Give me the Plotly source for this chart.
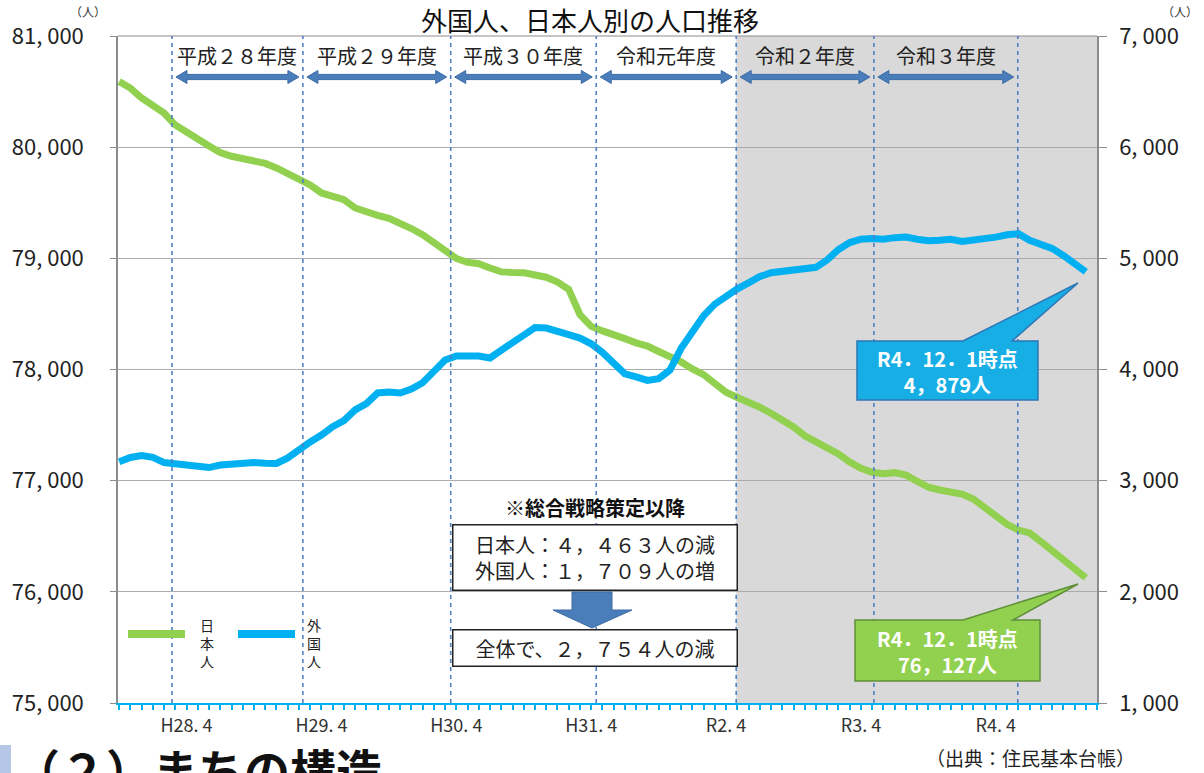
import plotly.graph_objects as go

# ---------------- data ----------------
# monthly points, Oct 2015 (H27.10) through Dec 2022 (R4.12)
months = [(2015, m) for m in range(10, 13)] + [(y, m) for y in range(2016, 2023) for m in range(1, 13)]

# Japanese residents (left axis)
japanese = [80590, 80532, 80442, 80374, 80307, 80199, 80127, 80073, 80010, 79951,
            79918, 79899, 79886, 79854, 79813, 79766, 79720, 79660, 79588, 79556,
            79528, 79453, 79414, 79387, 79359, 79321, 79268, 79213, 79138, 79057,
            78999, 78964, 78951, 78913, 78878, 78873, 78871, 78850, 78830, 78787,
            78721, 78493, 78388, 78347, 78305, 78278, 78240, 78211, 78162, 78122,
            78068, 78005, 77954, 77874, 77795, 77748, 77712, 77661, 77607, 77550,
            77483, 77404, 77351, 77308, 77240, 77168, 77111, 77076, 77062, 77072,
            77050, 76995, 76941, 76916, 76900, 76880, 76835, 76757, 76677, 76608,
            76556, 76530, 76452, 76371, 76292, 76218, 76127]

# foreign residents (right axis)
foreign = [3170, 3209, 3227, 3210, 3163, 3150, 3129, 3119, 3118, 3141,
           3147, 3162, 3163, 3156, 3155, 3205, 3285, 3348, 3411, 3486,
           3540, 3636, 3693, 3789, 3798, 3789, 3825, 3881, 3983, 4086,
           4122, 4129, 4121, 4104, 4182, 4242, 4310, 4377, 4373, 4336,
           4313, 4283, 4231, 4154, 4053, 3961, 3934, 3902, 3918, 3994,
           4190, 4341, 4484, 4588, 4661, 4726, 4780, 4836, 4870, 4882,
           4896, 4913, 4919, 4987, 5080, 5142, 5172, 5179, 5171, 5186,
           5191, 5172, 5159, 5163, 5172, 5152, 5162, 5177, 5191, 5212,
           5222, 5162, 5126, 5090, 5026, 4950, 4879]

fiscal_years = ["平成２８年度", "平成２９年度", "平成３０年度", "令和元年度", "令和２年度", "令和３年度"]

left_ticks = [75000, 76000, 77000, 78000, 79000, 80000, 81000]
right_ticks = [1000, 2000, 3000, 4000, 5000, 6000, 7000]

# ---------------- helpers ----------------
FONT = "Noto Sans CJK JP"
W, H = 1204, 773
L, R, T, B = 118, 107, 36, 70
PW, PH = W - L - R, H - T - B
XR = [-0.1, 87.0]

# fiscal-year divider positions along the month axis
fy_dividers = [4.7, 16.35, 29.5, 42.45, 54.9, 67.15, 79.95]


def era(y, m):
    if (y, m) < (2019, 5):
        return f"H{y - 1988}"
    return f"R{y - 2018}"


def fw(text):
    return text.translate(str.maketrans("0123456789,.", "０１２３４５６７８９，．"))


def px(x):
    return (x - L) / PW


def py(y):
    return (T + PH - y) / PH


def xpix(v):
    return L + (v - XR[0]) * PW / (XR[1] - XR[0])


def comma_label(v):
    return f"{v // 1000}, {v % 1000:03d}"


def path_of(pts):
    return "M " + " L ".join(f"{px(x):.5f},{py(y):.5f}" for x, y in pts) + " Z"


annotations = []


def ann(text, x, y, size, color="#222", xanchor="center", yanchor="middle", **kw):
    annotations.append(dict(text=text, x=px(x), y=py(y), xref="paper", yref="paper",
                            xanchor=xanchor, yanchor=yanchor, showarrow=False,
                            font=dict(family=FONT, size=size, color=color), **kw))


xs = list(range(len(months)))
april_idx = [i for i, (y, m) in enumerate(months) if m == 4]
april_txt = [f"{era(*months[i])}. {months[i][1]}" for i in april_idx]

fig = go.Figure()
fig.add_trace(go.Scatter(x=xs, y=japanese, mode="lines", name="日本人",
                         line=dict(color="#92d050", width=7), yaxis="y"))
fig.add_trace(go.Scatter(x=xs, y=foreign, mode="lines", name="外国人",
                         line=dict(color="#00b0f0", width=7), yaxis="y2"))

shapes = []
# shaded period from R2.4
shapes.append(dict(type="rect", xref="x", yref="y", x0=fy_dividers[4], x1=XR[1],
                   y0=left_ticks[0], y1=left_ticks[-1], fillcolor="#d9d9d9",
                   line=dict(width=0), layer="below"))
# top frame
shapes.append(dict(type="line", xref="paper", yref="paper", x0=0, x1=1, y0=1, y1=1,
                   line=dict(color="#8c8c8c", width=1)))
# fiscal-year dividers
for d in fy_dividers:
    shapes.append(dict(type="line", xref="x", yref="paper", x0=d, x1=d, y0=0, y1=1,
                       line=dict(color="#4f7fc6", width=1.6, dash="4px,4px"), layer="above"))

# fiscal-year labels and double arrows
ay = 77
for i, name in enumerate(fiscal_years):
    a = xpix(fy_dividers[i]) + 4
    b = xpix(fy_dividers[i + 1]) - 4
    ann(name, (a + b) / 2, 55, 20)
    hl, hh, st = 11, 6.5, 2.6
    pts = [(a, ay), (a + hl, ay - hh), (a + hl, ay - st), (b - hl, ay - st), (b - hl, ay - hh),
           (b, ay), (b - hl, ay + hh), (b - hl, ay + st), (a + hl, ay + st), (a + hl, ay + hh)]
    shapes.append(dict(type="path", xref="paper", yref="paper", path=path_of(pts),
                       fillcolor="#4a7ebb", line=dict(color="#3c6aa5", width=1)))

# title and units
ann("外国人、日本人別の人口推移", 590, 19, 26, color="#111")
ann("（人）", 88, 12, 12, color="#333")
ann("（人）", 1180, 12, 12, color="#333")

# summary boxes since the strategy was adopted
jp_change = japanese[0] - japanese[-1]
fr_change = foreign[-1] - foreign[0]
total_change = jp_change - fr_change
ann("<b>※総合戦略策定以降</b>", 595, 507, 20, color="#111")
ann(f"日本人：{fw(f'{jp_change:,}')}人の減<br>外国人：{fw(f'{fr_change:,}')}人の増", 594.5, 557, 20,
    width=281, height=62, bgcolor="white", bordercolor="#222", borderwidth=1.5, borderpad=1)
ann(f"全体で、{fw(f'{total_change:,}')}人の減", 594.5, 647.5, 20,
    width=281, height=33, bgcolor="white", bordercolor="#222", borderwidth=1.5, borderpad=1)
# block arrow between the boxes
shapes.append(dict(type="path", xref="paper", yref="paper",
                   path=path_of([(572, 592), (612, 592), (612, 610), (632, 610), (592, 628), (553, 610), (572, 610)]),
                   fillcolor="#4a7ebb", line=dict(color="#3c6aa5", width=1)))

# callouts for the latest values
ly, lm = months[-1]
stamp = f"{era(ly, lm)}．{lm}．1時点"
callouts = [
    (foreign[-1], "#17aee6", "#2e75b6",
     [(857, 341), (963, 341), (1078, 283), (1012, 341), (1038, 341), (1038, 400), (857, 400)], 371),
    (japanese[-1], "#92d050", "#5f8f3a",
     [(855, 620), (963, 620), (1078, 584), (1013, 620), (1040, 620), (1040, 681), (855, 681)], 651),
]
for val, fill, edge, pts, cy in callouts:
    shapes.append(dict(type="path", xref="paper", yref="paper", path=path_of(pts),
                       fillcolor=fill, line=dict(color=edge, width=1.5)))
    ann(f"<b>{stamp}<br>{val:,}人</b>".replace(",", "，"), 947, cy, 20, color="white")

# legend drawn inside the plot, names written vertically
for (x0, x1, tx), color, name in [((128, 185, 207), "#92d050", "日本人"), ((238, 295, 314), "#00b0f0", "外国人")]:
    shapes.append(dict(type="line", xref="paper", yref="paper", x0=px(x0), x1=px(x1), y0=py(634), y1=py(634),
                       line=dict(color=color, width=8)))
    ann("<br>".join(name), tx, 643, 14)

# source and section heading
ann("（出典：住民基本台帳）", 1030, 757, 19)
ann("<b>（２）まちの構造</b>", 12, 733, 46, color="#111", xanchor="left", yanchor="top")
shapes.append(dict(type="rect", xref="paper", yref="paper", x0=px(0), x1=px(11), y0=py(773), y1=py(745),
                   fillcolor="#b4c7e7", line=dict(width=0)))

fig.update_layout(
    width=W, height=H,
    margin=dict(l=L, r=R, t=T, b=B, autoexpand=False),
    paper_bgcolor="white", plot_bgcolor="rgba(0,0,0,0)",
    showlegend=False,
    font=dict(family=FONT),
    shapes=shapes, annotations=annotations,
    xaxis=dict(range=XR, tickvals=april_idx, ticktext=april_txt, showgrid=False, zeroline=False,
               showline=True, linecolor="#00b0f0", linewidth=2,
               ticks="outside", ticklen=5, tickwidth=1.5, tickcolor="#00b0f0",
               minor=dict(ticks="outside", tick0=0, dtick=1, ticklen=5, tickwidth=1.5, tickcolor="#00b0f0"),
               tickfont=dict(family=FONT, size=18, color="#333"), automargin=False),
    yaxis=dict(range=[left_ticks[0], left_ticks[-1]], tickvals=left_ticks,
               ticktext=[comma_label(v) for v in left_ticks],
               showgrid=True, gridcolor="#ababab", gridwidth=1, zeroline=False,
               showline=True, linecolor="#8c8c8c", linewidth=1.5,
               ticks="outside", ticklen=6, tickcolor="#8c8c8c", ticklabelstandoff=22,
               tickfont=dict(family=FONT, size=22, color="#222"), automargin=False),
    yaxis2=dict(range=[right_ticks[0], right_ticks[-1]], tickvals=right_ticks,
                ticktext=[comma_label(v) for v in right_ticks],
                overlaying="y", side="right", showgrid=False, zeroline=False,
                showline=True, linecolor="#8c8c8c", linewidth=1.5,
                ticks="outside", ticklen=8, tickcolor="#8c8c8c", ticklabelstandoff=8,
                tickfont=dict(family=FONT, size=22, color="#222"), automargin=False),
)

fig.write_html("out.html")
